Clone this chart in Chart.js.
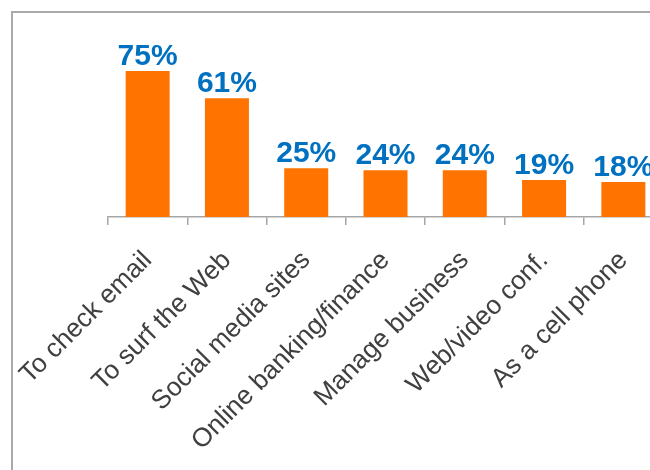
<!DOCTYPE html>
<html>
<head>
<meta charset="utf-8">
<script src="https://cdn.jsdelivr.net/npm/chart.js@4/dist/chart.umd.min.js"></script>
<style>
  html, body { margin: 0; padding: 0; width: 650px; height: 470px; overflow: hidden; background: #fff; }
  #frame { position: absolute; left: 11px; top: 11px; width: 700px; height: 520px; border: 2px solid #a9a9a9; box-sizing: border-box; }
  #c { position: absolute; left: 0; top: 0; }
</style>
</head>
<body>
<div id="frame"></div>
<canvas id="c" width="680" height="470"></canvas>
<script>
const categories = ["To check email", "To surf the Web", "Social media sites", "Online banking/finance", "Manage business", "Web/video conf.", "As a cell phone"];
const values = [75, 61, 25, 24, 24, 19, 18];

const valueLabels = {
  id: 'valueLabels',
  afterDatasetsDraw(chart) {
    const ctx = chart.ctx;
    const meta = chart.getDatasetMeta(0);
    ctx.save();
    ctx.fillStyle = '#0070C0';
    ctx.font = 'bold 30px "Liberation Sans", Arial, sans-serif';
    ctx.textAlign = 'center';
    ctx.textBaseline = 'alphabetic';
    meta.data.forEach((bar, i) => {
      ctx.fillText(values[i] + '%', bar.x, bar.y - 6);
    });
    ctx.restore();
  }
};

new Chart(document.getElementById('c'), {
  type: 'bar',
  data: {
    labels: categories,
    datasets: [{
      data: values,
      backgroundColor: '#FF7300',
      borderWidth: 0,
      barPercentage: 0.555,
      categoryPercentage: 1.0
    }]
  },
  options: {
    responsive: false,
    animation: false,
    devicePixelRatio: 1,
    layout: { padding: { left: 108, right: 17, top: 22.3, bottom: 0 } },
    plugins: { legend: { display: false }, tooltip: { enabled: false } },
    scales: {
      x: {
        grid: { display: true, drawOnChartArea: false, drawTicks: true, tickLength: 8, color: '#a6a6a6', lineWidth: 1.5, offset: true },
        border: { display: true, color: '#a6a6a6', width: 1.5 },
        ticks: {
          color: '#404040',
          font: { family: '"Liberation Sans", Arial, sans-serif', size: 26.3 },
          minRotation: 45, maxRotation: 45,
          padding: 20,
          autoSkip: false
        },
        afterFit(scale) {
          scale.paddingLeft = 0;
          scale.paddingRight = 0;
          scale.height = 253;
        }
      },
      y: {
        display: false,
        min: 0, max: 100
      }
    }
  },
  plugins: [valueLabels]
});
</script>
</body>
</html>
